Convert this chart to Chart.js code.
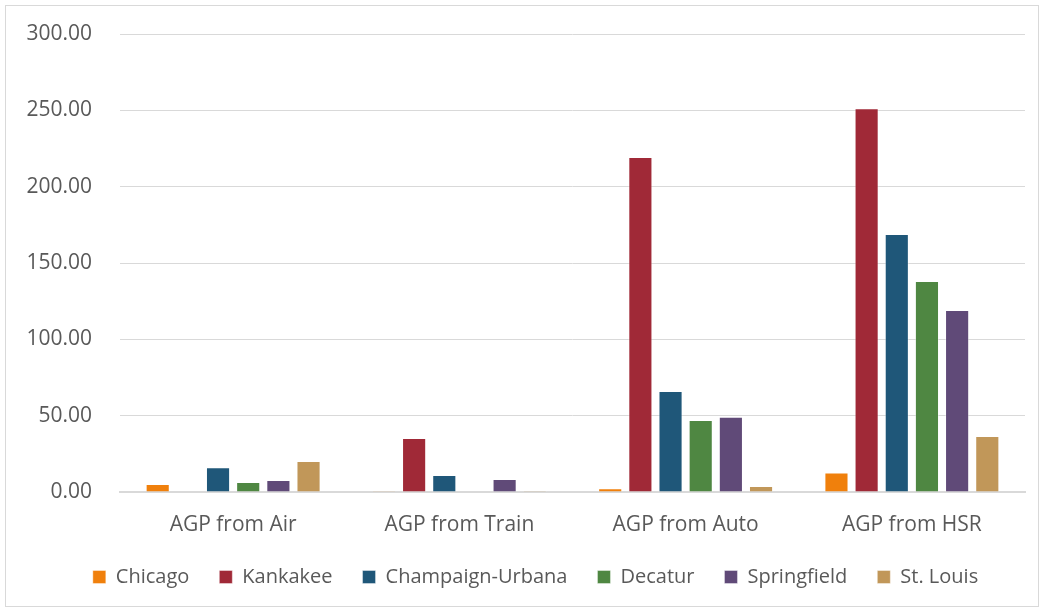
<!DOCTYPE html>
<html>
<head>
<meta charset="utf-8">
<script src="https://cdn.jsdelivr.net/npm/chart.js@4/dist/chart.umd.min.js"></script>
<style>
  body { margin: 0; background: #fff; }
  #wrap { position: relative; width: 1044px; height: 613px; }
  #frame { position: absolute; left: 5px; top: 5px; width: 1034px; height: 602px; border: 1px solid #d9d9d9; box-sizing: border-box; }
  canvas { position: absolute; left: 0; top: 0; }
</style>
</head>
<body>
<div id="wrap">
  <div id="frame"></div>
  <canvas id="myChart" width="1044" height="613"></canvas>
</div>
<script>
var categories = ['AGP from Air', 'AGP from Train', 'AGP from Auto', 'AGP from HSR'];
var cities = ['Chicago', 'Kankakee', 'Champaign-Urbana', 'Decatur', 'Springfield', 'St. Louis'];
var colors = ['#f0800c', '#a02937', '#1f5779', '#4f8742', '#604a78', '#c19759'];

var chicago = [5.2, 0.1, 2.4, 12.7];
var kankakee = [0, 35.4, 219.4, 251.3];
var champaign = [16.2, 11.1, 66.1, 169.0];
var decatur = [6.5, 0, 47.2, 138.2];
var springfield = [7.9, 8.5, 49.3, 119.2];
var stLouis = [20.3, 0.7, 3.9, 36.7];

var seriesValues = [chicago, kankakee, champaign, decatur, springfield, stLouis];

var ctx = document.getElementById('myChart').getContext('2d');

var dataset = [];
for (var i = 0; i < cities.length; i++) {
    dataset.push({
        label: cities[i],
        backgroundColor: colors[i],
        borderColor: 'rgba(255, 255, 255, 0.4)',
        borderWidth: 1,
        data: seriesValues[i]
    });
}

// nudge the legend a bit to the right, like the original
var legendShift = {
    id: 'legendShift',
    afterLayout: function (c) {
        c.legend.left += 13;
        c.legend.right += 13;
    }
};

var chart = new Chart(ctx, {
    type: 'bar',
    data: {
        labels: categories,
        datasets: dataset
    },
    plugins: [legendShift],
    options: {
        responsive: false,
        animation: false,
        categoryPercentage: 0.8,
        barPercentage: 0.8,
        layout: {
            padding: { left: 20, right: 19, top: 34, bottom: 16 }
        },
        plugins: {
            legend: {
                position: 'bottom',
                labels: {
                    color: '#595959',
                    font: { family: 'Open Sans', size: 20 },
                    boxWidth: 13,
                    boxHeight: 13,
                    padding: 30
                }
            },
            tooltip: { enabled: false }
        },
        scales: {
            x: {
                afterFit: function (scale) { scale.height = 45; },
                grid: { display: false, drawTicks: false },
                border: { color: '#d9d9d9', width: 2 },
                ticks: {
                    color: '#595959',
                    font: { family: 'Open Sans', size: 21 },
                    padding: 20
                }
            },
            y: {
                min: 0,
                max: 300,
                afterFit: function (scale) { scale.width = 100; },
                grid: { color: '#d9d9d9', drawTicks: true, tickLength: 28, tickColor: 'rgba(0,0,0,0)' },
                border: { display: false },
                ticks: {
                    stepSize: 50,
                    color: '#595959',
                    font: { family: 'Open Sans', size: 21 },
                    padding: 0,
                    callback: function (v) { return v.toFixed(2); }
                }
            }
        }
    }
});
</script>
</body>
</html>
